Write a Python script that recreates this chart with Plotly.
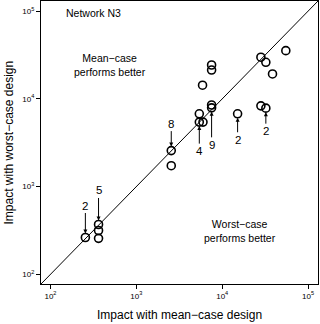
import numpy as np
import plotly.graph_objects as go

# Data: impact with mean-case design (x) vs worst-case design (y)
mean_case = [255, 363, 363, 363, 2550, 2550, 5410, 5410, 5970, 7520, 7520,
             7520, 7520, 5900, 15100, 28200, 32200, 28200, 32200, 55000, 38500]
worst_case = [263, 370, 316, 257, 2570, 1730, 6760, 5430, 5430, 8510, 7900,
              24300, 21300, 14300, 6760, 8320, 7830, 29800, 26100, 35400, 19200]

# Count labels with the points they refer to
label_text = ["2", "5", "8", "4", "9", "2", "2"]
label_x = [255, 363, 2550, 5410, 7520, 15100, 32200]
label_y = [263, 370, 2570, 5430, 7900, 6760, 7830]
label_offset = [-32, -34, -27, 29, 37, 26, 23]  # pixel offset of the label

tick_vals = [1e2, 1e3, 1e4, 1e5]
tick_text = ["10<sup>2</sup>", "10<sup>3</sup>", "10<sup>4</sup>", "10<sup>5</sup>"]

log_range = [1.89, 5.115]
FONT = "Liberation Sans, Arial, Helvetica, sans-serif"

fig = go.Figure()
diag = [10 ** log_range[0], 10 ** log_range[1]]
fig.add_trace(go.Scatter(x=diag, y=diag, mode="lines",
                         line=dict(color="black", width=1), hoverinfo="skip"))
fig.add_trace(go.Scatter(x=mean_case, y=worst_case, mode="markers",
                         marker=dict(symbol="circle-open", size=8,
                                     color="black", line=dict(width=1.6))))

for t, xv, yv, off in zip(label_text, label_x, label_y, label_offset):
    fig.add_annotation(x=np.log10(xv), y=np.log10(yv), xref="x", yref="y",
                       text=t, showarrow=True, axref="pixel", ayref="pixel",
                       ax=0, ay=off, arrowhead=2, arrowsize=0.8, arrowwidth=1,
                       arrowcolor="black", standoff=4, startstandoff=0,
                       font=dict(family=FONT, size=11.5, color="black"))

text_font = dict(family=FONT, size=10.5, color="black")
fig.add_annotation(x=0.191, y=0.958, xref="paper", yref="paper",
                   xanchor="center", yanchor="middle",
                   text="Network N3", showarrow=False, font=text_font)
fig.add_annotation(x=0.249, y=0.775, xref="paper", yref="paper",
                   xanchor="center", yanchor="middle",
                   text="Mean\u2212case<br>performs better", showarrow=False,
                   font=text_font)
fig.add_annotation(x=0.718, y=0.187, xref="paper", yref="paper",
                   xanchor="center", yanchor="middle",
                   text="Worst\u2212case<br>performs better", showarrow=False,
                   font=text_font)

title_font = dict(family=FONT, size=12, color="black")
fig.add_annotation(x=0.5, y=-0.1095, xref="paper", yref="paper",
                   xanchor="center", yanchor="middle",
                   text="Impact with mean\u2212case design", showarrow=False,
                   font=title_font)
fig.add_annotation(x=-0.119, y=0.5, xref="paper", yref="paper",
                   xanchor="center", yanchor="middle", textangle=-90,
                   text="Impact with worst\u2212case design", showarrow=False,
                   font=title_font)

axis_common = dict(type="log", range=log_range, tickvals=tick_vals,
                   ticktext=tick_text, ticks="outside", ticklen=4,
                   tickwidth=1, tickcolor="black", showline=True,
                   linecolor="black", linewidth=1.3, mirror=True,
                   showgrid=False, zeroline=False, automargin=False,
                   tickfont=dict(family=FONT, size=8, color="black"))
fig.update_xaxes(**axis_common)
fig.update_yaxes(**axis_common)

fig.update_layout(width=320, height=324, showlegend=False,
                  margin=dict(l=41, r=2, t=1, b=40),
                  plot_bgcolor="white", paper_bgcolor="white")

# remove the default page margin so the figure fills the window
fig.write_html("out.html",
               config={"displayModeBar": False},
               post_script="document.body.style.margin='0';"
                           "document.documentElement.style.overflow='hidden';")
